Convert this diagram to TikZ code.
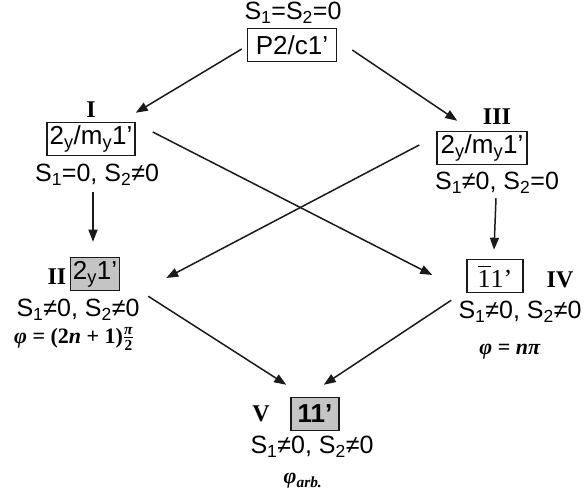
\RequirePackage{fix-cm}
\documentclass[tikz,border=0pt]{standalone}
\usepackage{amsmath}
\usepackage{fontspec}
\setmainfont{Liberation Serif}
\setsansfont{Liberation Sans}
\usetikzlibrary{arrows.meta,calc}
\definecolor{ink}{HTML}{1A1A1A}
\definecolor{boxgray}{HTML}{C4C4C4}
\newcommand{\sbs}[1]{\textsubscript{#1}}
\tikzset{
  stbox/.style={draw=ink,line width=1.5pt,inner sep=0pt,minimum height=33pt,font=\sffamily\fontsize{26}{30}\selectfont},
  stshade/.style={stbox,fill=boxgray},
  stlabel/.style={inner sep=0pt,font=\rmfamily\bfseries\fontsize{24}{28}\selectfont},
  stcond/.style={inner sep=0pt,font=\sffamily\fontsize{25}{30}\selectfont},
  stphase/.style={inner sep=0pt,font=\rmfamily\bfseries\fontsize{22}{26}\selectfont},
  stflow/.style={-{Triangle[length=12pt,width=9pt]},line width=1.5pt,draw=ink}
}

\begin{document}
\begin{tikzpicture}[x=1pt,y=-1pt]
  \useasboundingbox (0,0) rectangle (586,502);
  % top state
  \node[stcond] (cnd0) at (293,13) {S\sbs{1}=S\sbs{2}=0};
  \node[stbox,minimum width=89pt] (bx0) at (292,45) {P2/c1'};
  % state I
  \node[stlabel] (labI) at (91,110) {I};
  \node[stbox,minimum width=88pt] (bxI) at (91,139) {2\sbs{y}/m\sbs{y}1'};
  \node[stcond] (cndI) at (97,175) {S\sbs{1}=0, S\sbs{2}≠0};
  % state III
  \node[stlabel] (labIII) at (497,117) {III};
  \node[stbox,minimum width=90pt] (bxIII) at (482,148) {2\sbs{y}/m\sbs{y}1'};
  \node[stcond] (cndIII) at (497,183) {S\sbs{1}≠0, S\sbs{2}=0};
  % state II
  \node[stlabel] (labII) at (57,277) {II};
  \node[stshade,minimum width=49pt] (bxII) at (95,274) {2\sbs{y}1'};
  \node[stcond] (cndII) at (78,310) {S\sbs{1}≠0, S\sbs{2}≠0};
  \node[stphase] (phII) at (74,339) {\textit{φ} = (2\textit{n} + 1)$\frac{\text{\itshape π}}{\text{2}}$};
  % state IV
  \node[stbox,minimum width=56pt] (bxIV) at (495,276) {\rmfamily$\overline{\mbox{1}}$1'};
  \node[stlabel] (labIV) at (560,280) {IV};
  \node[stcond] (cndIV) at (520,312) {S\sbs{1}≠0, S\sbs{2}≠0};
  \node[stphase] (phIV) at (510,352) {\textit{φ} = \textit{nπ}};
  % state V
  \node[stlabel] (labV) at (261,414) {V};
  \node[stshade,minimum width=48pt] (bxV) at (315,414) {\bfseries 11'};
  \node[stcond] (cndV) at (312,447) {S\sbs{1}≠0, S\sbs{2}≠0};
  \node[stphase] (phV) at (303,481) {\textit{φ}\textsubscript{\textit{arb.}}};
  % transitions
  \draw[stflow] ($(bx0.west)+(-5,4)$) -- ($(bxI.north east)+(0,-9)$);
  \draw[stflow] ($(bx0.east)+(15,5)$) -- ($(bxIII.north west)+(21,-10)$);
  \draw[stflow] ($(bxI.south)+(2,36)$) -- ($(bxII.north)+(-2,-15)$);
  \draw[stflow] ($(bxI.east)+(17,-7)$) -- ($(bxIV.west)+(-34,-1)$);
  \draw[stflow] ($(bxIII.west)+(-17,-3)$) -- ($(bxII.east)+(46,4)$);
  \draw[stflow] ($(bxIII.south)+(14,33)$) -- ($(bxIV.north)+(-1,-9)$);
  \draw[stflow] ($(bxII.south east)+(28,5)$) -- ($(bxV.north west)+(-4,-12)$);
  \draw[stflow] ($(bxIV.south west)+(-15,7)$) -- ($(bxV.north east)+(-16,-12)$);
\end{tikzpicture}
\end{document}
